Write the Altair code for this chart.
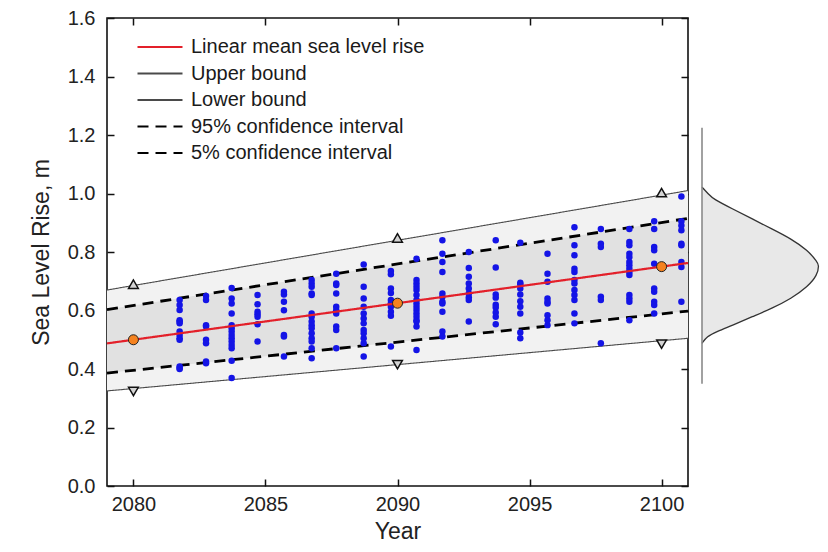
import altair as alt
import pandas as pd

FONT = "Liberation Sans"

# ---- straight lines (values read at the plot edges) ----
edge_years = [2079, 2101]
upper_bound = [0.67, 1.01]
lower_bound = [0.325, 0.505]
ci_95 = [0.603, 0.915]
ci_05 = [0.386, 0.598]
mean_rise = [0.4875, 0.7625]

series_names = ["Linear mean sea level rise", "Upper bound", "Lower bound",
                "95% confidence interval", "5% confidence interval"]
series_values = [mean_rise, upper_bound, lower_bound, ci_95, ci_05]
series_colors = ["#e3202a", "#4a4a4a", "#4a4a4a", "#000000", "#000000"]
series_dash = [[1, 0], [1, 0], [1, 0], [11, 7], [11, 7]]

# ---- markers ----
marker_years = [2080, 2090, 2100]
upper_markers = [0.69, 0.848, 1.003]
lower_markers = [0.323, 0.415, 0.485]
mean_markers = [0.50, 0.625, 0.75]

# ---- blue sample dots, by column ----
dot_cols = [
    (2081.75, [0.636, 0.619, 0.602, 0.567, 0.562, 0.556, 0.528, 0.516, 0.505, 0.500, 0.409, 0.403, 0.400]),
    (2082.75, [0.650, 0.636, 0.550, 0.545, 0.500, 0.488, 0.426, 0.420]),
    (2083.72, [0.677, 0.641, 0.624, 0.590, 0.550, 0.539, 0.528, 0.516, 0.505, 0.494, 0.482, 0.471, 0.428, 0.369]),
    (2084.7, [0.653, 0.621, 0.596, 0.587, 0.579, 0.553, 0.494]),
    (2085.7, [0.664, 0.655, 0.630, 0.601, 0.516, 0.511, 0.443]),
    (2086.75, [0.704, 0.692, 0.681, 0.658, 0.653, 0.590, 0.579, 0.562, 0.550, 0.539, 0.522, 0.505, 0.494, 0.471, 0.437]),
    (2087.68, [0.726, 0.692, 0.687, 0.658, 0.613, 0.601, 0.590, 0.545, 0.533, 0.471]),
    (2088.72, [0.757, 0.681, 0.641, 0.613, 0.590, 0.573, 0.556, 0.533, 0.522, 0.505, 0.488, 0.443]),
    (2089.75, [0.735, 0.724, 0.675, 0.660, 0.636, 0.625, 0.613, 0.596, 0.582, 0.477]),
    (2090.72, [0.777, 0.704, 0.692, 0.681, 0.670, 0.653, 0.636, 0.624, 0.613, 0.602, 0.590, 0.579, 0.567, 0.562, 0.545, 0.465]),
    (2091.7, [0.840, 0.794, 0.766, 0.732, 0.658, 0.647, 0.630, 0.624, 0.596, 0.528, 0.511]),
    (2092.7, [0.800, 0.745, 0.715, 0.692, 0.675, 0.658, 0.645, 0.636, 0.562]),
    (2093.72, [0.840, 0.747, 0.655, 0.644, 0.620, 0.610, 0.593, 0.579, 0.553]),
    (2094.65, [0.832, 0.695, 0.690, 0.675, 0.655, 0.632, 0.613, 0.590, 0.525, 0.505]),
    (2095.68, [0.794, 0.726, 0.698, 0.641, 0.630, 0.624, 0.584, 0.567, 0.550]),
    (2096.7, [0.885, 0.823, 0.789, 0.743, 0.732, 0.704, 0.692, 0.670, 0.653, 0.636, 0.590, 0.556]),
    (2097.7, [0.879, 0.828, 0.817, 0.647, 0.636, 0.488]),
    (2098.78, [0.879, 0.834, 0.823, 0.794, 0.783, 0.766, 0.755, 0.743, 0.732, 0.721, 0.653, 0.641, 0.630, 0.567]),
    (2099.72, [0.905, 0.879, 0.817, 0.806, 0.760, 0.675, 0.664, 0.630, 0.619, 0.590]),
    (2100.75, [0.990, 0.905, 0.891, 0.874, 0.828, 0.823, 0.766, 0.749, 0.630]),
]

# ---- distribution of sea level rise at 2100 (relative density) ----
dens_level = [1.022, 0.998, 0.981, 0.947, 0.913, 0.879, 0.845, 0.806, 0.766, 0.755,
              0.721, 0.681, 0.641, 0.607, 0.579, 0.550, 0.528, 0.511, 0.488]
dens_rel = [0.0, 0.055, 0.097, 0.263, 0.43, 0.597, 0.763, 0.903, 0.986, 1.0,
            0.986, 0.903, 0.763, 0.597, 0.43, 0.263, 0.125, 0.042, 0.0]
dens_axis_span = [0.35, 1.225]

x_ticks = [2080, 2085, 2090, 2095, 2100]
y_ticks = [0.0, 0.2, 0.4, 0.6, 0.8, 1.0, 1.2, 1.4, 1.6]

# ---- tables ----
band_df = pd.DataFrame({"year": edge_years, "upper": upper_bound, "lower": lower_bound,
                        "c95": ci_95, "c05": ci_05})
line_rows = []
for name, vals in zip(series_names, series_values):
    for yr, v in zip(edge_years, vals):
        line_rows.append({"series": name, "year": yr, "value": v})
line_df = pd.DataFrame(line_rows)
dot_df = pd.DataFrame([{"year": yr, "value": v} for yr, vals in dot_cols for v in vals])
mk_df = pd.DataFrame({"year": marker_years, "up": upper_markers, "down": lower_markers,
                      "mean": mean_markers})
dens_df = pd.DataFrame({"level": dens_level, "dens": dens_rel})
rule_df = pd.DataFrame({"dens": [0.0], "lo": [dens_axis_span[0]], "hi": [dens_axis_span[1]]})

xs = alt.Scale(domain=[2079, 2101], nice=False, zero=False)
ys = alt.Scale(domain=[0, 1.6], nice=False, zero=False)
ds = alt.Scale(domain=[0, 1], range=[595, 712], nice=False, zero=True)

common_axis = dict(grid=False, domain=False, offset=-7, tickSize=7, tickColor="#111",
                   tickWidth=1.5, labelFont=FONT, labelFontSize=20, labelColor="#222",
                   titleFont=FONT, titleFontSize=23, titleFontWeight="normal", titleColor="#222")

bottom_axis = alt.Axis(orient="bottom", values=x_ticks, format="d", labelPadding=8,
                       title="Year", titlePadding=6, **common_axis)
left_axis = alt.Axis(orient="left", values=y_ticks, format=".1f", labelPadding=12,
                     title="Sea Level Rise, m", titlePadding=14, **common_axis)
top_axis = alt.Axis(orient="top", values=x_ticks, labels=False, title=None, **common_axis)
right_axis = alt.Axis(orient="right", values=y_ticks, labels=False, title=None, **common_axis)

outer_band = alt.Chart(band_df).mark_area(color="#f2f2f2").encode(
    x=alt.X("year:Q", scale=xs, axis=bottom_axis),
    y=alt.Y("lower:Q", scale=ys, axis=left_axis),
    y2="upper:Q",
)
inner_band = alt.Chart(band_df).mark_area(color="#e1e1e1").encode(
    x=alt.X("year:Q", scale=xs, axis=None),
    y=alt.Y("c05:Q", scale=ys, axis=None),
    y2="c95:Q",
)

legend = alt.Legend(title=None, orient="none", legendX=29, legendY=19,
                    symbolType="stroke", symbolSize=2025, clipHeight=20,
                    rowPadding=6.5, labelFont=FONT, labelFontSize=20,
                    labelColor="#1a1a1a", labelOffset=7, labelLimit=500,
                    symbolStrokeWidth=2.2, symbolOpacity=1, padding=0)
color_scale = alt.Scale(domain=series_names, range=series_colors)
dash_scale = alt.Scale(domain=series_names, range=series_dash)


def line_layer(names, width):
    return alt.Chart(line_df).transform_filter(
        alt.FieldOneOfPredicate(field="series", oneOf=names)
    ).mark_line(strokeWidth=width).encode(
        x=alt.X("year:Q", scale=xs, axis=None),
        y=alt.Y("value:Q", scale=ys, axis=None),
        color=alt.Color("series:N", scale=color_scale, legend=legend),
        strokeDash=alt.StrokeDash("series:N", scale=dash_scale, legend=legend),
    )


bound_lines = line_layer(series_names[1:3], 1.1)
dash_lines = line_layer(series_names[3:5], 2.8)
mean_line = line_layer(series_names[0:1], 2.2)

dots = alt.Chart(dot_df).mark_circle(color="#1414e6", size=42, opacity=1).encode(
    x=alt.X("year:Q", scale=xs, axis=None),
    y=alt.Y("value:Q", scale=ys, axis=None),
)

tri_up = alt.Chart(mk_df).mark_point(shape="triangle-up", filled=True, fill="#d4d4d4",
                                     stroke="#111", strokeWidth=1.5, size=95, opacity=1).encode(
    x=alt.X("year:Q", scale=xs, axis=None),
    y=alt.Y("up:Q", scale=ys, axis=None),
)
tri_down = alt.Chart(mk_df).mark_point(shape="triangle-down", filled=True, fill="#d4d4d4",
                                       stroke="#111", strokeWidth=1.5, size=95, opacity=1).encode(
    x=alt.X("year:Q", scale=xs, axis=None),
    y=alt.Y("down:Q", scale=ys, axis=None),
)
mean_pts = alt.Chart(mk_df).mark_point(shape="circle", filled=True, fill="#f5821f",
                                       stroke="#222", strokeWidth=1, size=100, opacity=1).encode(
    x=alt.X("year:Q", scale=xs, axis=None),
    y=alt.Y("mean:Q", scale=ys, axis=None),
)

frame_ticks = alt.Chart(dot_df).mark_point(opacity=0).encode(
    x=alt.X("year:Q", scale=xs, axis=top_axis),
    y=alt.Y("value:Q", scale=ys, axis=right_axis),
)

dens_area = alt.Chart(dens_df).mark_area(orient="horizontal", color="#e8e8e8",
                                         interpolate="basis").encode(
    x=alt.X("dens:Q", scale=ds, axis=None, stack=None),
    y=alt.Y("level:Q", scale=ys, axis=None),
)
dens_line = alt.Chart(dens_df).mark_line(color="#333333", strokeWidth=1.3,
                                         interpolate="basis").encode(
    x=alt.X("dens:Q", scale=ds, axis=None),
    y=alt.Y("level:Q", scale=ys, axis=None),
    order=alt.Order("level:Q"),
)
dens_rule = alt.Chart(rule_df).mark_rule(color="#8a8a8a", strokeWidth=1.6).encode(
    x=alt.X("dens:Q", scale=ds, axis=None),
    y=alt.Y("lo:Q", scale=ys, axis=None),
    y2="hi:Q",
)

chart = alt.layer(
    outer_band, inner_band, bound_lines, dash_lines, dots, mean_line, tri_up, tri_down,
    mean_pts, frame_ticks, dens_area, dens_line, dens_rule,
).resolve_scale(x="independent").resolve_axis(x="independent", y="independent").properties(
    width=581, height=468,
    autosize=alt.AutoSizeParams(type="none"),
    padding={"left": 99, "top": 10, "right": 132, "bottom": 58},
    background="white",
).configure_view(stroke="#111", strokeWidth=1.6)

chart.save("out.html", embed_options={"renderer": "svg", "actions": False})
